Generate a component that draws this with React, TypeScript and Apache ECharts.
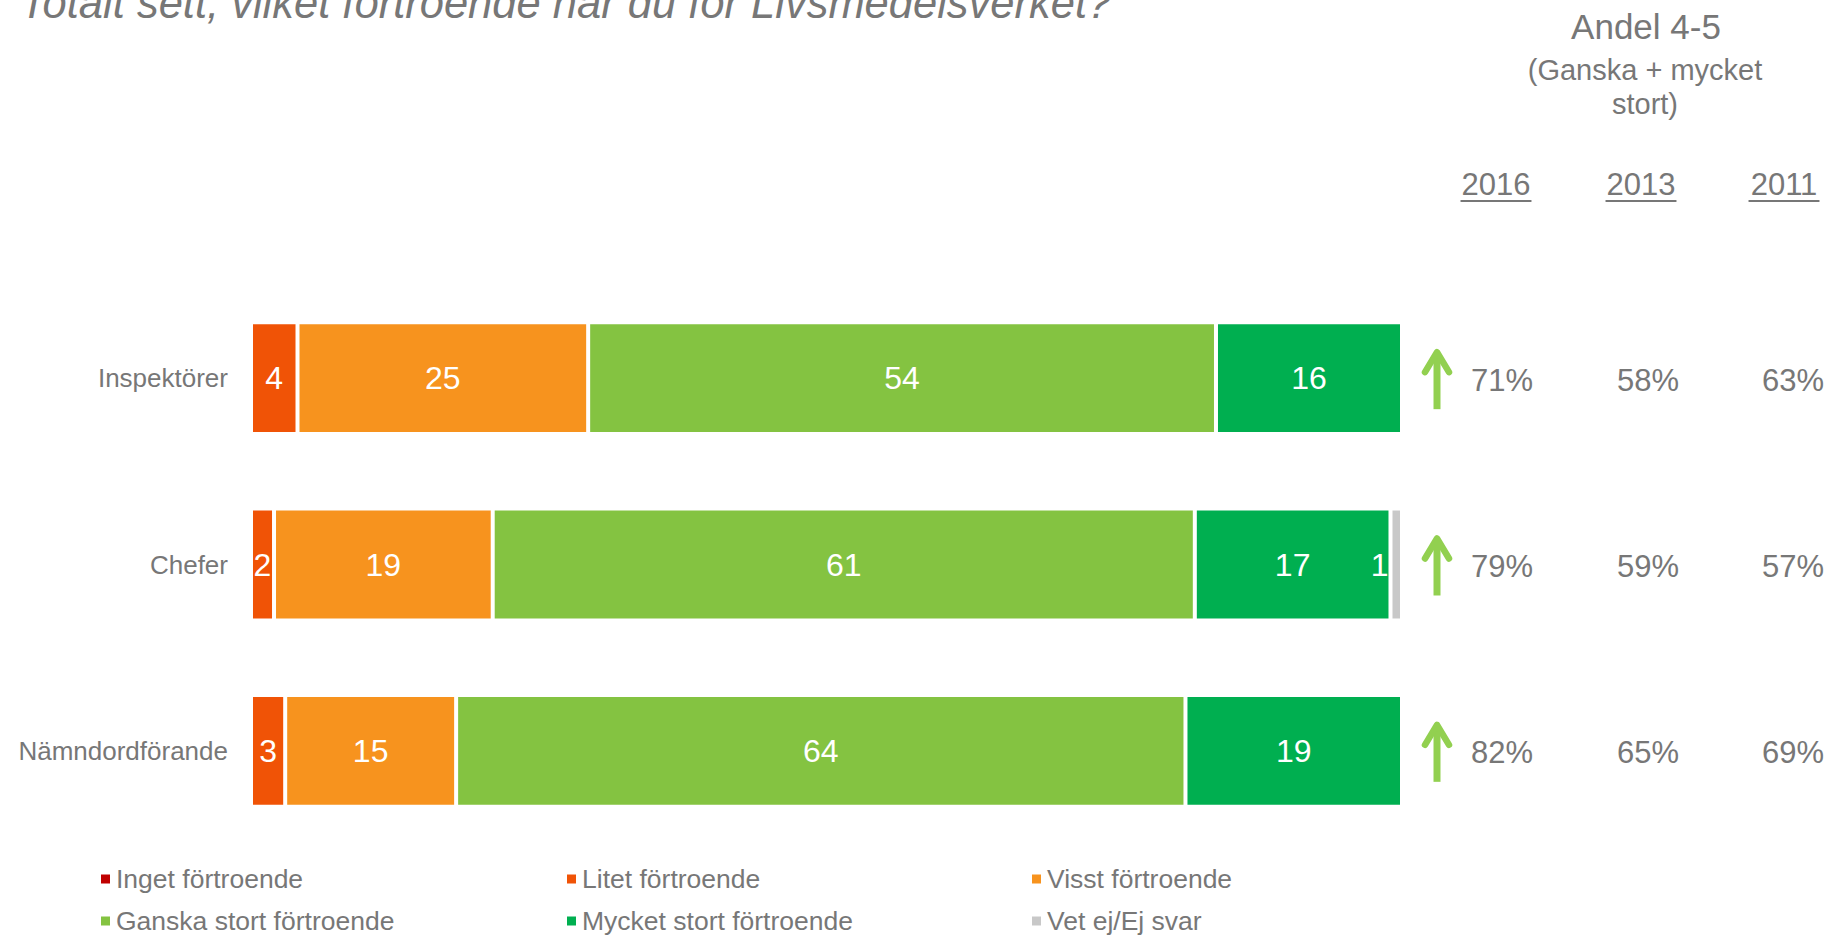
import React, { useEffect, useRef } from "react";
import * as echarts from "echarts";

const categories = ["Inspektörer", "Chefer", "Nämndordförande"];
const seriesNames = [
  "Inget förtroende",
  "Litet förtroende",
  "Visst förtroende",
  "Ganska stort förtroende",
  "Mycket stort förtroende",
  "Vet ej/Ej svar",
];
const inget = [0, 0, 0];
const litet = [4, 2, 3];
const visst = [25, 19, 15];
const ganska = [54, 61, 64];
const mycket = [16, 17, 19];
const vetEj = [0, 1, 0];
const seriesColors = ["#C00000", "#F05306", "#F7931E", "#84C341", "#00AF50", "#C8C8C8"];

const yearLabels = ["2016", "2013", "2011"];
const andel2016 = [71, 79, 82];
const andel2013 = [58, 59, 65];
const andel2011 = [63, 57, 69];
const trendUp = [true, true, true];

const titleText = "Totalt sett, vilket förtroende har du för Livsmedelsverket?";
const headerLines = ["Andel 4-5", "(Ganska + mycket", "stort)"];

const FONT = '"Liberation Sans", Arial, sans-serif';
const GRAY = "#777777";

export default function App() {
  const ref = useRef<HTMLDivElement>(null);

  useEffect(() => {
    if (!ref.current) return;
    const chart = echarts.init(ref.current, undefined, { renderer: "svg" });
    const allSeries = [inget, litet, visst, ganska, mycket, vetEj];
    const totals = categories.map((_, i) => allSeries.reduce((s, arr) => s + arr[i], 0));

    const series = allSeries.map((arr, si) => ({
      name: seriesNames[si],
      type: "bar",
      stack: "total",
      barCategoryGap: "40%",
      emphasis: { disabled: true },
      itemStyle: { color: seriesColors[si], borderColor: "#ffffff", borderWidth: 2 },
      label: {
        show: true,
        position: si === 5 ? "left" : "inside",
        distance: 2,
        color: "#ffffff",
        fontSize: 32,
        fontFamily: FONT,
        formatter: (p: any) => (p.data.raw > 0 ? String(p.data.raw) : ""),
      },
      data: arr.map((v, i) => ({ value: (v / totals[i]) * 100, raw: v })),
    }));

    // legend grid: 3 columns x 2 rows
    const legendOrder = [0, 1, 2, 3, 4, 5];
    const legendColX = [99, 565, 1030];
    const legendRowY = [864, 906];
    const legends = legendOrder.map((si, k) => ({
      data: [seriesNames[si]],
      left: legendColX[k % 3],
      top: legendRowY[Math.floor(k / 3)],
      padding: 0,
      itemWidth: 11,
      itemHeight: 11,
      icon: "rect",
      selectedMode: false,
      textStyle: { color: GRAY, fontSize: 26.5, fontFamily: FONT, lineHeight: 30 },
    }));

    chart.setOption({
      animation: false,
      grid: { left: 251, top: 285, width: 1151, height: 559, containLabel: false },
      xAxis: { type: "value", min: 0, max: 100, show: false },
      yAxis: {
        type: "category",
        data: categories,
        inverse: true,
        axisLine: { show: false },
        axisTick: { show: false },
        splitLine: { show: false },
        axisLabel: { margin: 23, color: GRAY, fontSize: 26, fontFamily: FONT },
      },
      legend: legends,
      series,
    });

    const ys = categories.map((c) => chart.convertToPixel({ yAxisIndex: 0 }, c) as number);
    const colX = [1502, 1648, 1793];
    const yearX = [1496, 1641, 1784];
    const values = [andel2016, andel2013, andel2011];

    const text = (t: string, x: number, y: number, size: number, align = "center", italic = false) => ({
      type: "text",
      x,
      y,
      silent: true,
      style: {
        text: t,
        fill: GRAY,
        fontSize: size,
        fontFamily: FONT,
        fontStyle: italic ? "italic" : "normal",
        align,
        verticalAlign: "middle",
      },
    });

    const graphics: any[] = [];
    graphics.push(text(titleText, 20, 3, 43.5, "left", true));
    graphics.push(text(headerLines[0], 1646, 26, 35));
    graphics.push(text(headerLines[1], 1645, 70, 29));
    graphics.push(text(headerLines[2], 1645, 104, 29));
    yearLabels.forEach((yl, i) => {
      graphics.push(text(yl, yearX[i], 184, 31));
      const w = yl.length * 0.556 * 31;
      graphics.push({
        type: "line",
        silent: true,
        shape: { x1: yearX[i] - w / 2 - 1, y1: 201, x2: yearX[i] + w / 2 + 1, y2: 201 },
        style: { stroke: GRAY, lineWidth: 2 },
      });
    });
    ys.forEach((y, r) => {
      values.forEach((arr, c) => {
        graphics.push(text(`${arr[r]}%`, colX[c], y + 2, 31));
      });
      if (trendUp[r]) {
        const ax = 1437;
        const tip = y - 28;
        const bottom = y + 31;
        graphics.push({
          type: "line",
          silent: true,
          shape: { x1: ax, y1: tip + 3, x2: ax, y2: bottom },
          style: { stroke: "#92D050", lineWidth: 7, lineCap: "butt" },
        });
        graphics.push({
          type: "polyline",
          silent: true,
          shape: { points: [[ax - 12, tip + 22], [ax, tip + 2], [ax + 12, tip + 22]] },
          style: { stroke: "#92D050", lineWidth: 6.5, lineCap: "round", lineJoin: "round", fill: "none" },
        });
      }
    });

    chart.setOption({ graphic: graphics });

    return () => chart.dispose();
  }, []);

  return (
    <div
      ref={ref}
      style={{ position: "fixed", left: 0, top: 0, width: 1833, height: 937, background: "#ffffff" }}
    />
  );
}
